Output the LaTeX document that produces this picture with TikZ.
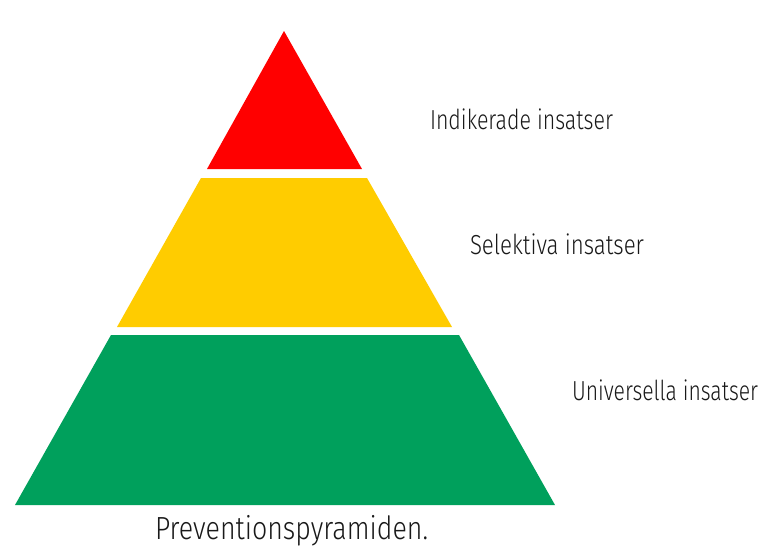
\documentclass[tikz,border=0pt]{standalone}
\usepackage{fontspec}
\setmainfont{Fira Sans Light}
\usepackage{graphicx}
\definecolor{pyrred}{HTML}{FF0000}
\definecolor{pyryellow}{HTML}{FFCC00}
\definecolor{pyrgreen}{HTML}{00A05C}
\tikzset{
  layer/.style={draw=none},
  lbl/.style={anchor=base west, inner sep=0pt, outer sep=0pt, text=black!90},
}
\begin{document}
\begin{tikzpicture}[x=1pt,y=-1pt]
\useasboundingbox[fill=white] (0,0) rectangle (764,547);
\fill[pyrred,layer] (284,31) -- (362,169) -- (207,169) -- cycle;
\fill[pyryellow,layer] (201,178) -- (367,178) -- (452,327) -- (117,327) -- cycle;
\fill[pyrgreen,layer] (111,335) -- (459,335) -- (555,505) -- (15,505) -- cycle;
\node[lbl] (ind) at (430,129) {\fontsize{27.5}{30}\selectfont\resizebox{183pt}{\height}{Indikerade insatser}};
\node[lbl] (sel) at (470,254) {\fontsize{27.5}{30}\selectfont\resizebox{174pt}{\height}{Selektiva insatser}};
\node[lbl] (uni) at (572,400) {\fontsize{27.5}{30}\selectfont\resizebox{186pt}{\height}{Universella insatser}};
\node[lbl] (prev) at (155,539) {\fontsize{32}{35}\selectfont\resizebox{273pt}{\height}{Preventionspyramiden.}};
\end{tikzpicture}
\end{document}
